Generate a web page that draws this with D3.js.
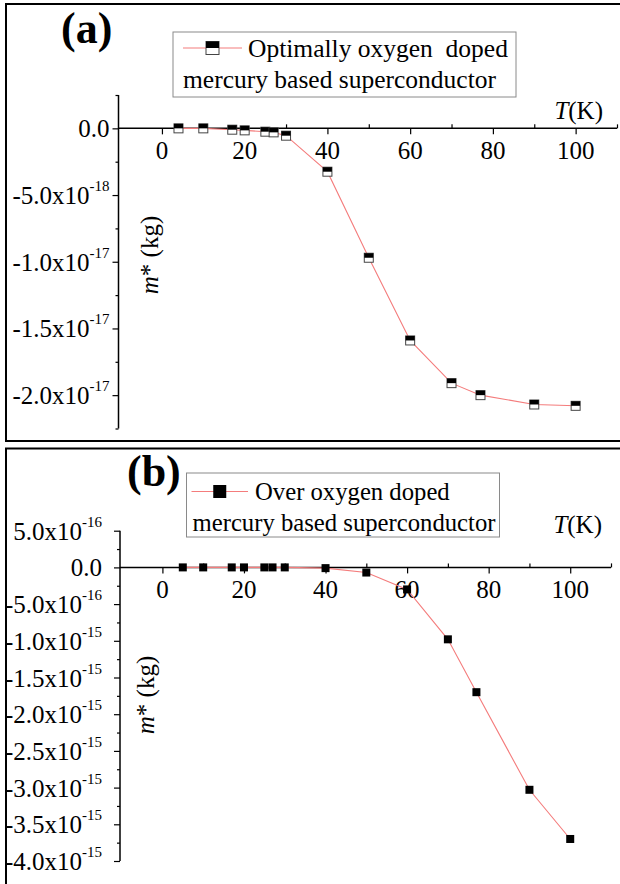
<!DOCTYPE html>
<html>
<head>
<meta charset="utf-8">
<script src="https://cdn.jsdelivr.net/npm/d3@7"></script>
<style>
  html, body { margin: 0; padding: 0; background: #fff; }
  svg { display: block; }
</style>
</head>
<body>
<svg id="chart" width="620" height="884"></svg>
<script>
// ---------- data ----------
const tempsA = [4, 10, 17, 20, 25, 27, 30, 40, 50, 60, 70, 77, 90, 100];
const massA = [0, 0, -1e-19, -1.5e-19, -2.5e-19, -3e-19, -5.5e-19, -3.25e-18, -9.7e-18, -1.59e-17, -1.91e-17, -2.0e-17, -2.07e-17, -2.08e-17];

const tempsB = [5, 10, 17, 20, 25, 27, 30, 40, 50, 60, 70, 77, 90, 100];
const massB = [0, 0, 0, 0, 0, 0, 0, -1e-17, -7e-17, -3e-16, -9.8e-16, -1.7e-15, -3.03e-15, -3.7e-15];

const xTicks = [0, 20, 40, 60, 80, 100];
const xMinorTicks = [10, 30, 50, 70, 90, 110];

const yTicksA = [0, -5e-18, -1e-17, -1.5e-17, -2e-17];
const yTickLabelsA = ["0.0", "-5.0x10^-18", "-1.0x10^-17", "-1.5x10^-17", "-2.0x10^-17"];
const yMinorA = [2.5e-18, -2.5e-18, -7.5e-18, -1.25e-17, -1.75e-17, -2.25e-17];

const yTicksB = [5e-16, 0, -5e-16, -1e-15, -1.5e-15, -2e-15, -2.5e-15, -3e-15, -3.5e-15, -4e-15];
const yTickLabelsB = ["5.0x10^-16", "0.0", "-5.0x10^-16", "-1.0x10^-15", "-1.5x10^-15", "-2.0x10^-15", "-2.5x10^-15", "-3.0x10^-15", "-3.5x10^-15", "-4.0x10^-15"];
const yMinorB = [2.5e-16, -2.5e-16, -7.5e-16, -1.25e-15, -1.75e-15, -2.25e-15, -2.75e-15, -3.25e-15, -3.75e-15];

const panelLabels = ["(a)", "(b)"];
const legendA = ["Optimally oxygen  doped", "mercury based superconductor"];
const legendB = ["Over oxygen doped", "mercury based superconductor"];
const xTitle = ["T", "(K)"];
const yTitle = ["m", "* (kg)"];

// ---------- drawing ----------
const FONT = "Liberation Serif";
const svg = d3.select("#chart");
svg.append("rect").attr("width", 620).attr("height", 884).attr("fill", "#fff");

const lineColor = "#f47c7c";

function txt(g) {
  return g.append("text").attr("font-family", FONT).attr("fill", "#000");
}

function drawPanel(cfg) {
  const g = svg.append("g");
  // frame
  g.append("rect")
    .attr("x", cfg.frame[0]).attr("y", cfg.frame[1])
    .attr("width", cfg.frame[2]).attr("height", cfg.frame[3])
    .attr("fill", "none").attr("stroke", "#000").attr("stroke-width", 2);

  const x = d3.scaleLinear().domain(cfg.xDomain).range(cfg.xRange);
  const y = d3.scaleLinear().domain(cfg.yDomain).range(cfg.yRange);
  const y0 = y(0);
  const xAxisX = cfg.xRange[0];

  // x axis at y=0 via d3 axis (major ticks down)
  const xAxis = d3.axisBottom(x).tickValues(xTicks).tickSize(6).tickFormat("");
  const gx = g.append("g").attr("transform", `translate(0,${y0})`).call(xAxis);
  gx.select(".domain").remove();
  gx.selectAll(".tick line").attr("stroke", "#000").attr("stroke-width", 1.2);
  const xMinor = d3.axisTop(x).tickValues(xMinorTicks).tickSize(4).tickFormat("");
  const gxm = g.append("g").attr("transform", `translate(0,${y0})`).call(xMinor);
  gxm.select(".domain").remove();
  gxm.selectAll(".tick line").attr("stroke", "#000").attr("stroke-width", 1.2);
  g.append("line").attr("x1", xAxisX).attr("x2", cfg.xRange[1])
    .attr("y1", y0).attr("y2", y0).attr("stroke", "#000").attr("stroke-width", 1.5);

  // x tick labels
  xTicks.forEach(d => {
    txt(g).attr("x", x(d)).attr("y", y0 + 31)
      .attr("text-anchor", "middle").attr("font-size", 25).text(d);
  });

  // y axis
  const yAxis = d3.axisLeft(y).tickValues(cfg.yTicks).tickSize(6).tickFormat("");
  const gy = g.append("g").attr("transform", `translate(${xAxisX},0)`).call(yAxis);
  gy.select(".domain").remove();
  gy.selectAll(".tick line").attr("stroke", "#000").attr("stroke-width", 1.2);
  const yMinorAx = d3.axisLeft(y).tickValues(cfg.yMinor).tickSize(3).tickFormat("");
  const gym = g.append("g").attr("transform", `translate(${xAxisX},0)`).call(yMinorAx);
  gym.select(".domain").remove();
  gym.selectAll(".tick line").attr("stroke", "#000").attr("stroke-width", 1.2);
  g.append("line").attr("x1", xAxisX).attr("x2", xAxisX)
    .attr("y1", cfg.yRange[0]).attr("y2", cfg.yRange[1])
    .attr("stroke", "#000").attr("stroke-width", 1.5);

  // y tick labels
  cfg.yTicks.forEach((v, i) => {
    const parts = cfg.yLabels[i].split("^");
    const t = txt(g)
      .attr("x", xAxisX - cfg.yLabelGap).attr("y", y(v) + 9)
      .attr("text-anchor", "end").attr("font-size", 25);
    t.append("tspan").text(parts[0]);
    if (parts[1]) {
      t.append("tspan").attr("dy", -13).attr("font-size", 15).text(parts[1]);
    }
  });

  // y title
  const yt = txt(g)
    .attr("transform", `translate(${cfg.yTitlePos[0]},${cfg.yTitlePos[1]}) rotate(-90)`)
    .attr("text-anchor", "middle").attr("dy", "0.35em").attr("font-size", 25);
  yt.append("tspan").attr("font-style", "italic").text(yTitle[0]);
  yt.append("tspan").text(yTitle[1]);

  // x title
  const xt = txt(g)
    .attr("x", cfg.xTitlePos[0]).attr("y", cfg.xTitlePos[1])
    .attr("text-anchor", "end").attr("font-size", 25);
  xt.append("tspan").attr("font-style", "italic").text(xTitle[0]);
  xt.append("tspan").text(xTitle[1]);

  // panel label
  txt(g).attr("x", cfg.labelPos[0]).attr("y", cfg.labelPos[1])
    .attr("font-size", 44).attr("font-weight", "bold").text(cfg.label);

  // data line
  const pts = cfg.temps.map((t, i) => [t, cfg.mass[i]]);
  g.append("path").datum(pts)
    .attr("d", d3.line().x(d => x(d[0])).y(d => y(d[1])))
    .attr("fill", "none").attr("stroke", lineColor).attr("stroke-width", 1.1);

  // markers
  const s = cfg.markerSize;
  pts.forEach(d => drawMarker(g, x(d[0]), y(d[1]), s, cfg.half));

  // legend
  const L = cfg.legend;
  g.append("rect").attr("x", L.box[0]).attr("y", L.box[1])
    .attr("width", L.box[2]).attr("height", L.box[3])
    .attr("fill", "#fff").attr("stroke", "#8a8a8a").attr("stroke-width", 1);
  g.append("line").attr("x1", L.line[0]).attr("x2", L.line[1])
    .attr("y1", L.line[2]).attr("y2", L.line[2])
    .attr("stroke", lineColor).attr("stroke-width", 1.1);
  drawMarker(g, (L.line[0] + L.line[1]) / 2, L.line[2], L.markerSize, cfg.half);
  txt(g).attr("x", L.t1[0]).attr("y", L.t1[1])
    .attr("font-size", L.fs).style("white-space", "pre").text(L.text[0]);
  txt(g).attr("x", L.t2[0]).attr("y", L.t2[1])
    .attr("font-size", L.fs).style("white-space", "pre").text(L.text[1]);
}

function drawMarker(g, cx, cy, s, half) {
  if (half) {
    g.append("rect").attr("x", cx - s / 2).attr("y", cy - s / 2)
      .attr("width", s).attr("height", s)
      .attr("fill", "#fff").attr("stroke", "#444").attr("stroke-width", 1);
    g.append("rect").attr("x", cx - s / 2).attr("y", cy - s / 2)
      .attr("width", s).attr("height", s / 2).attr("fill", "#000");
  } else {
    g.append("rect").attr("x", cx - s / 2).attr("y", cy - s / 2)
      .attr("width", s).attr("height", s).attr("fill", "#000");
  }
}

drawPanel({
  frame: [6, 4, 700, 437],
  xDomain: [-10.5, 110], xRange: [118.5, 617],
  yDomain: [-2.25e-17, 2.5e-18], yRange: [428.5, 95],
  yTicks: yTicksA, yLabels: yTickLabelsA, yMinor: yMinorA, yLabelGap: 9,
  yTitlePos: [149, 255], xTitlePos: [603, 119],
  label: panelLabels[0], labelPos: [61, 43],
  temps: tempsA, mass: massA, markerSize: 9, half: true,
  legend: {
    box: [173, 32, 343, 65], line: [183, 242, 48], markerSize: 13,
    t1: [248, 57], t2: [183, 88], fs: 25.5, text: legendA
  }
});

drawPanel({
  frame: [6, 448.5, 700, 500],
  xDomain: [-10.4, 110], xRange: [120, 611],
  yDomain: [-4e-15, 5e-16], yRange: [861, 530.7],
  yTicks: yTicksB, yLabels: yTickLabelsB, yMinor: yMinorB, yLabelGap: 18,
  yTitlePos: [145, 695], xTitlePos: [602, 533],
  label: panelLabels[1], labelPos: [127, 486],
  temps: tempsB, mass: massB, markerSize: 8, half: false,
  legend: {
    box: [186.5, 473, 313, 64], line: [191.5, 248, 491.5], markerSize: 13,
    t1: [255, 500], t2: [192.5, 530.5], fs: 24.7, text: legendB
  }
});
</script>
</body>
</html>
